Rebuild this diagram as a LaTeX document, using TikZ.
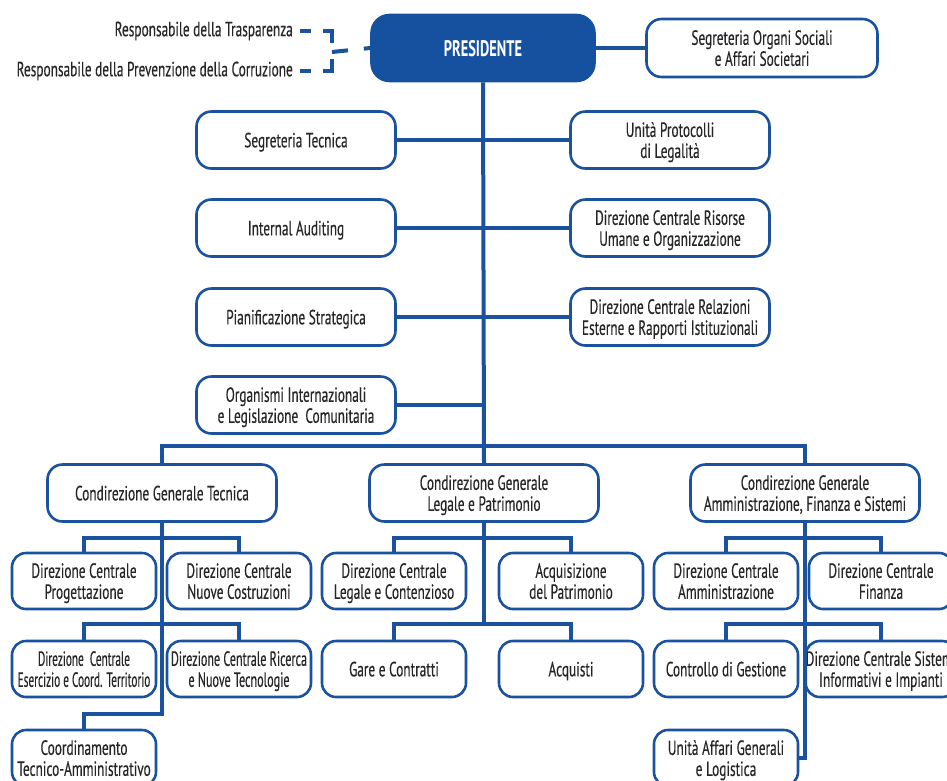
\documentclass[tikz,border=0pt]{standalone}
\usepackage{fontspec}
\newfontfamily\orgfont[FakeStretch=0.65, FakeBold=0.3]{PT Sans}
\newfontfamily\orgnarrow[FakeStretch=0.55, FakeBold=0.3]{PT Sans}
\newfontfamily\orgsemi[FakeStretch=0.59, FakeBold=0.3]{PT Sans}
\newfontfamily\presfont[FakeStretch=0.64]{PT Sans}
\definecolor{orgblue}{HTML}{1A52A0}
\definecolor{presblue}{HTML}{1651A0}
\definecolor{orgtext}{HTML}{262626}
\tikzset{
	unit/.style={draw=orgblue, line width=2.6pt, rounded corners=15pt, fill=white,
		text=orgtext, align=center, inner sep=0pt, text depth=0pt,
		font=\orgfont\fontsize{20.5}{21}\selectfont},
	staffbox/.style={unit, minimum width=199pt, minimum height=57pt},
	condbox/.style={unit, minimum width=229pt, minimum height=57pt},
	dirbox/.style={unit, minimum width=144pt, minimum height=56pt, rounded corners=14pt},
	tightbox/.style={dirbox, font=\orgnarrow\fontsize{20.5}{21}\selectfont},
	label/.style={anchor=east, inner ysep=0pt, inner xsep=7pt, text=orgtext,
		font=\orgfont\fontsize{20.5}{21}\selectfont},
	link/.style={draw=orgblue, line width=4pt},
	dashlink/.style={draw=orgblue, line width=4pt, dash pattern=on 11pt off 12pt on 21pt off 20pt},
	dashmid/.style={draw=orgblue, line width=4pt, dash pattern=on 16pt off 16pt on 20pt},
}
\begin{document}
\begin{tikzpicture}[x=1pt,y=-1pt]
	\useasboundingbox (0,0) rectangle (947,780);
	\clip (0,0) rectangle (947,780);
	
	% Top level
	\node[unit, fill=presblue, draw=presblue, text=white, minimum width=223pt, minimum height=66pt,
		rounded corners=18pt, font=\presfont\bfseries\fontsize{22.5}{24}\selectfont] (pres) at (483,48) {PRESIDENTE};
	\node[unit, minimum width=231pt, minimum height=58pt] (orgsoc) at (762,48) {Segreteria Organi Sociali\\e Affari Societari};
	\draw[link] (pres) -- (orgsoc);
	
	% Dashed staff on the left
	\node[label] (trasp) at (300,31) {Responsabile della Trasparenza};
	\node[label] (corruz) at (300,71) {Responsabile della Prevenzione della Corruzione};
	\coordinate (brk) at (332,52);
	\draw[dashlink] (trasp.east) -| (brk);
	\draw[dashlink] (corruz.east) -| (brk);
	\draw[dashmid] (brk) -- (pres.west);
	
	% Staff boxes on both sides of the main line
	\foreach \name/\ypos/\txt in {segtec/140/Segreteria Tecnica, audit/228/Internal Auditing,
		pianif/317/Pianificazione Strategica, orgint/405/{Organismi Internazionali\\e Legislazione\ \ Comunitaria}} {
		\node[staffbox] (\name) at (296,\ypos) {\txt};
		\draw[link] (\name.east) -- (\name.east -| pres.south);
	}
	\foreach \name/\ypos/\txt in {protoc/140/{Unità Protocolli\\di Legalità}, risorse/228/{Direzione Centrale Risorse\\Umane e Organizzazione},
		relaz/317/{Direzione Centrale Relazioni\\Esterne e Rapporti Istituzionali}} {
		\node[staffbox] (\name) at (670,\ypos) {\txt};
		\draw[link] (\name.west) -- (\name.west -| pres.south);
	}
	
	% Condirezioni
	\node[condbox] (condtec) at (162,493) {Condirezione Generale Tecnica};
	\node[condbox] (condleg) at (484,493) {Condirezione Generale\\Legale e Patrimonio};
	\node[condbox] (condamm) at (805,493) {Condirezione Generale\\Amministrazione, Finanza e Sistemi};
	\coordinate (bus) at (483,446);
	\draw[link] (pres.south) -- (condleg.north);
	\draw[link] (condtec.north) |- (bus) -| (condamm.north);
	
	% Tecnica
	\node[dirbox] (progett) at (84,581) {Direzione Centrale\\Progettazione};
	\node[dirbox] (nuovecost) at (239,581) {Direzione Centrale\\Nuove Costruzioni};
	\node[tightbox] (eserc) at (84,669) {Direzione\ \ Centrale\\Esercizio e Coord. Territorio};
	\node[tightbox, font=\orgsemi\fontsize{20.5}{21}\selectfont] (ricerca) at (239,669) {Direzione Centrale Ricerca\\e Nuove Tecnologie};
	\node[dirbox] (coord) at (84,758) {Coordinamento\\Tecnico-Amministrativo};
	\draw[link] (condtec.south) -- (condtec.south |- 0,714) -| (coord.north);
	\draw[link] (progett.north) |- (condtec.south |- 0,538) -| (nuovecost.north);
	\draw[link] (eserc.north) |- (condtec.south |- 0,624) -| (ricerca.north);
	
	% Legale e Patrimonio
	\node[dirbox] (legcont) at (394,581) {Direzione Centrale\\Legale e Contenzioso};
	\node[dirbox] (acqpatr) at (571,581) {Acquisizione\\del Patrimonio};
	\node[dirbox] (gare) at (394,669) {Gare e Contratti};
	\node[dirbox] (acquisti) at (571,669) {Acquisti};
	\draw[link] (condleg.south) -- (condleg.south |- 0,624);
	\draw[link] (legcont.north) |- (condleg.south |- 0,538) -| (acqpatr.north);
	\draw[link] (gare.north) |- (condleg.south |- 0,624) -| (acquisti.north);
	
	% Amministrazione, Finanza e Sistemi
	\node[dirbox] (dcamm) at (726,581) {Direzione Centrale\\Amministrazione};
	\node[dirbox] (finanza) at (881,581) {Direzione Centrale\\Finanza};
	\node[dirbox] (controllo) at (726,669) {Controllo di Gestione};
	\node[dirbox] (sistemi) at (881,669) {Direzione Centrale Sistemi\\Informativi e Impianti};
	\node[dirbox] (affgen) at (726,758) {Unità Affari Generali\\e Logistica};
	\draw[link] (condamm.south) |- (affgen.east);
	\draw[link] (dcamm.north) |- (condamm.south |- 0,538) -| (finanza.north);
	\draw[link] (controllo.north) |- (condamm.south |- 0,624) -| (sistemi.north);
\end{tikzpicture}
\end{document}
